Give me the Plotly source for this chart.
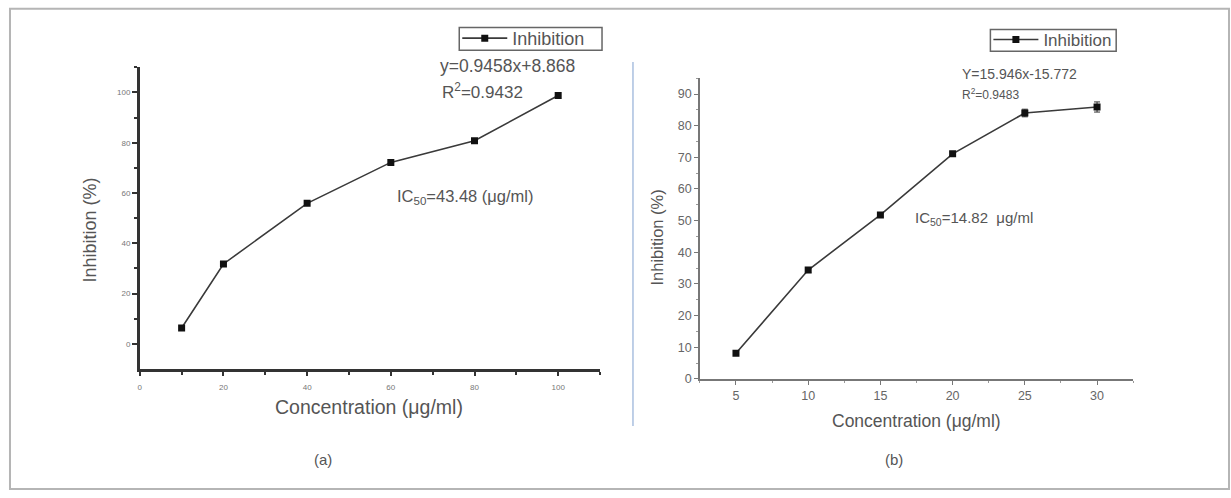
import plotly.graph_objects as go

W, H = 1231, 498

# ---- data ----
conc_a = [10, 20, 40, 60, 80, 100]
inhib_a = [6.3, 31.8, 55.9, 72.2, 80.8, 98.8]

conc_b = [5, 10, 15, 20, 25, 30]
inhib_b = [8.1, 34.4, 51.8, 71.1, 84.0, 85.9]
err_b = [0.5, 0.8, 0.6, 0.6, 1.2, 1.6]

xticks_a = [0, 20, 40, 60, 80, 100]
yticks_a = [0, 20, 40, 60, 80, 100]
xticks_b = [5, 10, 15, 20, 25, 30]
yticks_b = [0, 10, 20, 30, 40, 50, 60, 70, 80, 90]


def px(x):
    return x / W


def py(y):
    return 1 - y / H


FONT = "Liberation Sans, Arial, sans-serif"
LINE_C = "#3a3a3a"

fig = go.Figure()

fig.add_trace(go.Scatter(
    x=conc_a, y=inhib_a, mode="lines+markers", name="Inhibition",
    line=dict(color=LINE_C, width=1.6),
    marker=dict(symbol="square", size=7, color="#111"),
    xaxis="x", yaxis="y", legend="legend",
))
fig.add_trace(go.Scatter(
    x=conc_b, y=inhib_b, mode="lines+markers", name="Inhibition",
    line=dict(color=LINE_C, width=1.6),
    marker=dict(symbol="square", size=7, color="#111"),
    error_y=dict(type="data", array=err_b, color="#333", thickness=1, width=3),
    xaxis="x2", yaxis="y2", legend="legend2",
))

axis_a_common = dict(showgrid=False, zeroline=False, showline=True,
                     linecolor="#333", linewidth=2.5, ticks="outside",
                     tickcolor="#333", tickwidth=1.5,
                     tickfont=dict(size=8, color="#777", family=FONT))
axis_b_common = dict(showgrid=False, zeroline=False, showline=True,
                     linecolor="#777", linewidth=1.5, ticks="outside",
                     tickcolor="#777", tickwidth=1.2, ticklen=4,
                     tickfont=dict(size=12.5, color="#666", family=FONT))

fig.update_layout(
    width=W, height=H,
    margin=dict(l=0, r=0, t=0, b=0),
    paper_bgcolor="white", plot_bgcolor="white",
    font=dict(family=FONT, color="#555"),
    xaxis=dict(domain=[px(138), px(599)], range=[0, 110], anchor="y",
               tickvals=xticks_a, ticktext=[str(v) for v in xticks_a], ticklen=4,
               ticklabelstandoff=5,
               minor=dict(tickvals=[10, 30, 50, 70, 90, 110], ticklen=3, tickcolor="#333"),
               **axis_a_common),
    yaxis=dict(domain=[py(374.3), py(68.3)], range=[-10, 110], anchor="x",
               tickvals=yticks_a, ticktext=[str(v) for v in yticks_a], ticklen=5,
               minor=dict(tickvals=[10, 30, 50, 70, 90, 110], ticklen=3, tickcolor="#333"),
               **axis_a_common),
    xaxis2=dict(domain=[px(699), px(1133)], range=[2.5, 32.5], anchor="y2",
                tickvals=xticks_b,
                minor=dict(tick0=2.5, dtick=2.5, ticklen=2, ticks="outside", tickcolor="#999"),
                **axis_b_common),
    yaxis2=dict(domain=[py(384.3), py(79.3)], range=[0, 95], anchor="x2",
                tickvals=yticks_b,
                minor=dict(tick0=0, dtick=5, ticklen=2, ticks="outside", tickcolor="#999"),
                **axis_b_common),
    legend=dict(x=px(456), y=py(39), xanchor="left", yanchor="middle",
                borderwidth=0, bgcolor="rgba(0,0,0,0)",
                font=dict(size=18, color="#555", family=FONT),
                itemwidth=45, tracegroupgap=0),
    legend2=dict(x=px(988), y=py(40.5), xanchor="left", yanchor="middle",
                 borderwidth=0, bgcolor="rgba(0,0,0,0)",
                 font=dict(size=17, color="#555", family=FONT),
                 itemwidth=45, tracegroupgap=0),
    showlegend=True,
)

ann = []


def add_text(x, y, text, size, color="#555", xanchor="left", angle=0):
    ann.append(dict(x=px(x), y=py(y), xref="paper", yref="paper", text=text,
                    showarrow=False, xanchor=xanchor, yanchor="middle",
                    textangle=angle, font=dict(size=size, color=color, family=FONT)))


# panel (a)
add_text(437, 67, "y=0.9458x+8.868", 17.5)
add_text(439, 92, "R<sup>2</sup>=0.9432", 17)
add_text(394, 200, "IC<sub>50</sub>=43.48 (μg/ml)", 16.5)
add_text(368, 413, "Concentration (μg/ml)", 19.5, xanchor="center")
add_text(88, 233, "Inhibition (%)", 18, xanchor="center", angle=-90)
add_text(322, 466, "(a)", 15, xanchor="center")

# panel (b)
add_text(960, 75, "Y=15.946x-15.772", 14)
add_text(960, 95, "R<sup>2</sup>=0.9483", 12)
add_text(912, 222, "IC<sub>50</sub>=14.82  μg/ml", 15)
add_text(916, 427, "Concentration (μg/ml)", 17.5, xanchor="center")
add_text(656, 241, "Inhibition (%)", 16.5, xanchor="center", angle=-90)
add_text(893, 466, "(b)", 15, xanchor="center")

fig.update_layout(annotations=ann)

# decorative frame, legend boxes and separator
fig.add_shape(type="rect", xref="paper", yref="paper",
              x0=px(8), x1=px(1229), y0=py(496), y1=py(9),
              line=dict(color="#b5b5b5", width=2), layer="below")
fig.add_shape(type="rect", xref="paper", yref="paper",
              x0=px(458), x1=px(601), y0=py(51), y1=py(28),
              line=dict(color="#666", width=1.5), layer="below")
fig.add_shape(type="rect", xref="paper", yref="paper",
              x0=px(990), x1=px(1116), y0=py(52), y1=py(30),
              line=dict(color="#666", width=1.5), layer="below")
fig.add_shape(type="line", xref="paper", yref="paper",
              x0=px(632), x1=px(632), y0=py(63), y1=py(432),
              line=dict(color="#a9bfdf", width=1.5))

fig.write_html("out.html")
